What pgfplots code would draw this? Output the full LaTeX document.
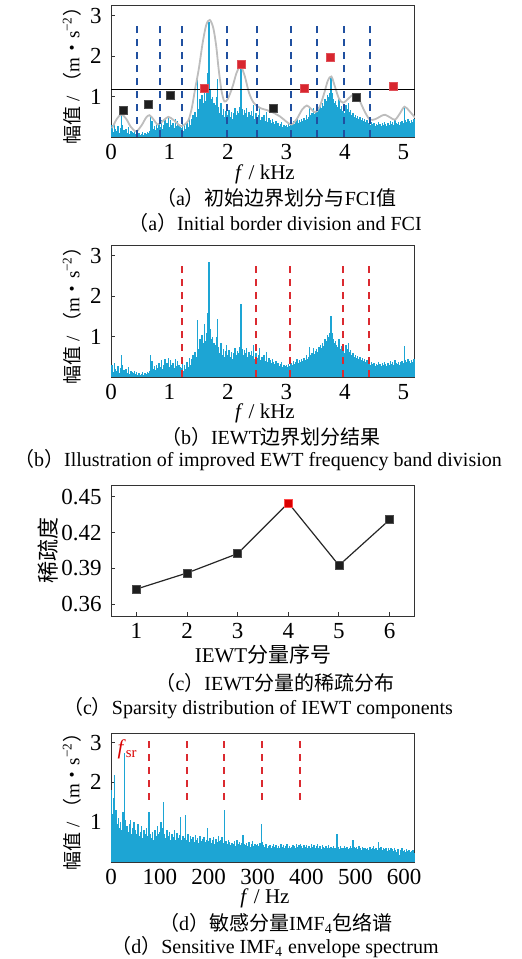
\documentclass[border=0pt]{standalone}
\usepackage{fontspec}
\setmainfont{Liberation Serif}
\newfontfamily\cjk{Noto Sans CJK SC}
\usepackage{pgfplots}
\pgfplotsset{compat=1.18}
\usepackage{pgfplotstable}

\definecolor{spec}{HTML}{1DA5D4}
\definecolor{envgray}{HTML}{BDBDBD}
\definecolor{dashblue}{HTML}{2050A0}
\definecolor{dashred}{HTML}{DB2A30}
\definecolor{sqred}{HTML}{D8262F}
\definecolor{sqblack}{HTML}{1E1E1E}

\newcommand{\zh}[1]{{\cjk #1}}
\newcommand{\ylab}{\zh{幅值} / \zh{（}m\zh{・}s\textsuperscript{−2}\zh{）}}

% original spectrum, 0.02 kHz bins (panels a and b)
\pgfplotstableread[row sep=\\, header=false]{
0.02\\0.30\\0.12\\0.35\\0.20\\0.15\\0.28\\0.10\\0.22\\0.55\\
0.30\\0.18\\0.12\\0.20\\0.10\\0.25\\0.08\\0.15\\0.12\\0.10\\
0.14\\0.08\\0.12\\0.06\\0.10\\0.05\\0.08\\0.12\\0.06\\0.10\\
0.08\\0.12\\0.10\\0.15\\0.55\\0.40\\0.20\\0.28\\0.18\\0.30\\
0.22\\0.35\\0.25\\0.42\\0.20\\0.30\\0.45\\0.28\\0.35\\0.48\\
0.25\\0.42\\0.30\\0.35\\0.22\\0.45\\0.28\\0.40\\0.30\\0.25\\
0.22\\0.35\\0.15\\0.30\\0.20\\0.38\\0.25\\0.48\\0.30\\0.45\\
0.55\\0.40\\0.62\\0.50\\1.40\\0.70\\0.95\\0.75\\1.05\\0.85\\
1.32\\0.90\\1.10\\1.58\\2.84\\1.20\\0.95\\1.00\\0.85\\0.80\\
1.00\\1.43\\0.75\\0.60\\0.85\\0.55\\0.70\\0.50\\0.65\\0.80\\
0.55\\0.68\\0.50\\0.62\\0.45\\0.60\\0.72\\0.55\\0.65\\0.60\\
0.75\\1.80\\0.70\\0.55\\0.68\\0.60\\0.72\\0.50\\0.62\\0.55\\
0.65\\0.52\\0.80\\0.45\\0.60\\0.48\\0.55\\0.72\\0.42\\0.50\\
0.45\\0.55\\0.40\\0.62\\0.38\\0.48\\0.42\\0.35\\0.45\\0.38\\
0.32\\0.40\\0.30\\0.35\\0.28\\0.32\\0.38\\0.25\\0.30\\0.28\\
0.30\\0.25\\0.32\\0.28\\0.35\\0.30\\0.40\\0.32\\0.38\\0.45\\
0.35\\0.42\\0.38\\0.45\\0.40\\0.48\\0.42\\0.55\\0.45\\0.50\\
0.74\\0.55\\0.60\\0.72\\0.58\\0.65\\0.70\\0.62\\0.75\\0.80\\
0.72\\0.85\\0.78\\0.95\\0.90\\1.05\\1.00\\1.10\\1.52\\1.08\\
0.95\\0.85\\0.90\\0.80\\0.75\\0.95\\0.70\\0.78\\0.65\\0.72\\
0.60\\0.80\\0.70\\0.85\\0.62\\0.68\\0.55\\0.60\\0.50\\0.55\\
0.48\\0.52\\0.45\\0.50\\0.42\\0.48\\0.40\\0.45\\0.38\\0.42\\
0.35\\0.40\\0.30\\0.38\\0.32\\0.35\\0.28\\0.33\\0.30\\0.36\\
0.32\\0.28\\0.35\\0.30\\0.38\\0.32\\0.28\\0.35\\0.30\\0.40\\
0.33\\0.38\\0.30\\0.42\\0.35\\0.32\\0.38\\0.30\\0.36\\0.40\\
0.35\\0.76\\0.42\\0.38\\0.45\\0.40\\0.35\\0.42\\0.38\\0.45\\
0.40\\
}\specab

% envelope spectrum of IMF4, 2.5 Hz bins (panel d)
\pgfplotstableread[row sep=\\, header=false]{
1.80\\1.20\\1.60\\2.18\\1.30\\0.95\\1.10\\0.85\\1.00\\0.80\\
1.25\\2.75\\1.05\\0.90\\0.75\\0.95\\1.05\\0.70\\0.85\\1.00\\
0.80\\0.70\\0.95\\0.65\\0.75\\0.90\\0.60\\0.80\\0.70\\0.85\\
0.65\\1.25\\0.70\\0.60\\0.75\\0.55\\0.80\\0.65\\0.90\\0.70\\
0.75\\1.00\\0.85\\1.50\\0.70\\0.60\\0.80\\0.65\\0.75\\0.55\\
0.70\\0.62\\0.80\\0.55\\0.72\\0.60\\0.68\\1.13\\0.55\\0.65\\
0.60\\1.17\\0.55\\0.70\\0.50\\0.65\\0.58\\0.62\\0.50\\0.68\\
0.55\\0.60\\0.48\\0.65\\0.52\\0.58\\0.62\\0.50\\0.55\\0.85\\
0.52\\0.60\\0.48\\0.55\\0.62\\0.45\\0.58\\0.50\\0.65\\0.52\\
0.55\\0.62\\0.48\\1.30\\0.52\\0.45\\0.55\\0.50\\0.42\\0.48\\
0.45\\0.52\\0.40\\0.55\\0.45\\0.50\\0.42\\0.48\\0.68\\0.45\\
0.42\\0.48\\0.40\\0.50\\0.38\\0.45\\0.52\\0.40\\0.46\\0.42\\
0.45\\0.40\\0.48\\0.95\\0.50\\0.42\\0.38\\0.44\\0.36\\0.40\\
0.42\\0.35\\0.40\\0.45\\0.38\\0.42\\0.34\\0.40\\0.36\\0.44\\
0.38\\0.42\\0.35\\0.40\\0.45\\0.36\\0.40\\0.34\\0.38\\0.42\\
0.40\\0.36\\0.44\\0.38\\0.42\\0.45\\0.40\\0.35\\0.42\\0.38\\
0.42\\0.36\\0.40\\0.34\\0.45\\0.38\\0.42\\0.35\\0.40\\0.44\\
0.36\\0.40\\0.33\\0.42\\0.38\\0.35\\0.40\\0.36\\0.42\\0.34\\
0.38\\0.35\\0.40\\0.36\\0.34\\0.70\\0.38\\0.33\\0.40\\0.35\\
0.36\\0.40\\0.34\\0.38\\0.32\\0.36\\0.40\\0.35\\0.55\\0.38\\
0.34\\0.38\\0.32\\0.40\\0.35\\0.30\\0.38\\0.34\\0.36\\0.32\\
0.35\\0.30\\0.38\\0.33\\0.36\\0.40\\0.32\\0.35\\0.30\\0.50\\
0.34\\0.38\\0.30\\0.36\\0.32\\0.35\\0.28\\0.34\\0.30\\0.36\\
0.32\\0.28\\0.34\\0.30\\0.26\\0.32\\0.18\\0.30\\0.34\\0.28\\
0.30\\0.26\\0.32\\0.28\\0.30\\0.25\\0.28\\0.30\\0.22\\
}\specd

\pgfplotstableread{
x y
0.02 0.22
0.10 0.45
0.18 0.56
0.26 0.45
0.34 0.25
0.43 0.14
0.52 0.28
0.60 0.48
0.66 0.54
0.73 0.43
0.80 0.31
0.89 0.40
0.98 0.50
1.07 0.42
1.18 0.28
1.24 0.29
1.32 0.40
1.38 0.70
1.44 1.20
1.50 1.67
1.57 2.35
1.63 2.78
1.69 2.90
1.75 2.70
1.80 2.25
1.84 1.70
1.89 1.15
1.94 0.88
2.00 0.95
2.08 1.25
2.15 1.60
2.22 1.75
2.29 1.50
2.36 1.10
2.44 0.85
2.55 0.72
2.72 0.64
2.89 0.51
3.00 0.38
3.09 0.31
3.18 0.45
3.27 0.68
3.35 0.78
3.42 0.70
3.49 0.61
3.57 0.75
3.65 1.10
3.71 1.40
3.77 1.50
3.83 1.25
3.90 0.95
3.97 0.85
4.06 0.95
4.14 1.05
4.22 1.00
4.30 0.75
4.37 0.55
4.43 0.43
4.52 0.44
4.62 0.52
4.69 0.55
4.78 0.48
4.86 0.43
4.94 0.58
5.02 0.75
5.10 0.65
5.20 0.48
}\envelope

\pgfplotsset{
  panel/.style={
    scale only axis, width=152pt, anchor=north west,
    tick align=inside, tick pos=left, major tick length=2.2pt,
    axis line style={line width=0.5pt, black!80},
    tick style={line width=0.5pt, black!80},
    ticklabel style={font=\fontsize{11.5}{13}\selectfont, inner sep=1pt},
    yticklabel style={xshift=-3.5pt},
    xticklabel style={yshift=-2.5pt},
    /pgf/number format/assume math mode=true,
  },
  khz/.style={xmin=0, xmax=5.2, ymin=0, ymax=3.27, xtick={0,1,2,3,4,5}, ytick={1,2,3}},
}
\tikzset{lab/.style={inner sep=0.5pt, font=\fontsize{10.5}{12}\selectfont}}

\begin{document}
\begin{tikzpicture}
\useasboundingbox (0,0) rectangle (261pt,-479.5pt);

% (a)
\begin{axis}[panel, khz, at={(55.5pt,-2.5pt)}, height=66pt]
\addplot[ycomb, spec, line width=0.72pt, no markers] table[x expr=\coordindex*0.02, y index=0]{\specab};
\addplot[envgray, line width=0.9pt, smooth, tension=0.5, no markers] table[x=x, y=y]{\envelope};
\addplot[ycomb, dashblue, line width=1pt, dash pattern=on 3.5pt off 3pt, no markers]
  coordinates {(0.44,2.82) (0.83,2.82) (1.21,2.82) (1.98,2.82) (2.49,2.82) (3.08,2.82) (3.52,2.82) (3.99,2.82) (4.43,2.82)};
\addplot[black, line width=0.6pt, no markers] coordinates {(0,1.18) (5.2,1.18)};
\addplot[only marks, mark=square*, mark size=2pt, mark options={fill=sqblack, draw=black!70, line width=0.3pt}]
  coordinates {(0.21,0.65) (0.64,0.82) (1.02,1.03) (2.78,0.72) (4.20,0.99)};
\addplot[only marks, mark=square*, mark size=2pt, mark options={fill=sqred, draw=sqred!80!white, line width=0.3pt}]
  coordinates {(1.59,1.20) (2.23,1.81) (3.30,1.21) (3.75,1.97) (4.83,1.25)};
\end{axis}
\node[rotate=90, font=\fontsize{9.5}{11}\selectfont] at (36pt,-35.5pt) {\ylab};
\node[lab] at (132.5pt,-87pt) {\textit{f} / kHz};
\node[font=\fontsize{10}{12}\selectfont] at (138pt,-99pt) {\zh{（}a\zh{）初始边界划分与}FCI\zh{值}};
\node[font=\fontsize{10}{12}\selectfont] at (137.5pt,-111.5pt) {\zh{（}a\zh{）}Initial border division and FCI};

% (b)
\begin{axis}[panel, khz, at={(55.5pt,-122.5pt)}, height=66pt]
\addplot[ycomb, spec, line width=0.72pt, no markers] table[x expr=\coordindex*0.02, y index=0]{\specab};
\addplot[ycomb, dashred, line width=1pt, dash pattern=on 3.5pt off 3pt, no markers]
  coordinates {(1.21,2.82) (2.48,2.82) (3.06,2.82) (3.96,2.82) (4.41,2.82)};
\end{axis}
\node[rotate=90, font=\fontsize{9.5}{11}\selectfont] at (36pt,-155.5pt) {\ylab};
\node[lab] at (132.5pt,-206.5pt) {\textit{f} / kHz};
\node[font=\fontsize{10}{12}\selectfont] at (135.5pt,-218.5pt) {\zh{（}b\zh{）}IEWT\zh{边界划分结果}};
\node[font=\fontsize{10}{12}\selectfont] at (129pt,-230pt) {\zh{（}b\zh{）}Illustration of improved EWT frequency band division};

% (c)
\begin{axis}[panel, at={(55.5pt,-242.5pt)}, height=65.5pt,
  xmin=0.5, xmax=6.5, ymin=0.35, ymax=0.46,
  xtick={1,2,3,4,5,6}, ytick={0.36,0.39,0.42,0.45},
  yticklabel style={/pgf/number format/.cd, fixed, fixed zerofill, precision=2}]
\addplot[black!85, line width=0.6pt, mark=square*, mark size=2pt, mark options={fill=sqblack, draw=black!70, line width=0.3pt}]
  coordinates {(1,0.3726) (2,0.3861) (3,0.4024) (4,0.4450) (5,0.3925) (6,0.4309)};
\addplot[only marks, mark=square*, mark size=2pt, mark options={fill=red!85!black, draw=red!70, line width=0.3pt}]
  coordinates {(4,0.4450)};
\end{axis}
\node[rotate=90, font=\fontsize{11}{13}\selectfont] at (24pt,-275pt) {\zh{稀疏度}};
\node[lab] at (131.5pt,-327pt) {IEWT\zh{分量序号}};
\node[font=\fontsize{10}{12}\selectfont] at (137.5pt,-341.5pt) {\zh{（}c\zh{）}IEWT\zh{分量的稀疏分布}};
\node[font=\fontsize{10}{12}\selectfont] at (129pt,-354pt) {\zh{（}c\zh{）}Sparsity distribution of IEWT components};

% (d)
\begin{axis}[panel, at={(55.5pt,-366.5pt)}, height=64.5pt,
  xmin=0, xmax=622, ymin=0, ymax=3.24, xtick={0,100,...,600}, ytick={1,2,3}]
\addplot[ycomb, spec, line width=0.72pt, no markers] table[x expr=\coordindex*2.5, y index=0]{\specd};
\addplot[dashred, line width=1pt, dash pattern=on 3.5pt off 3pt, no markers] coordinates {(77,1.57) (77,3.1)};
\addplot[dashred, line width=1pt, dash pattern=on 3.5pt off 3pt, no markers] coordinates {(154.5,1.57) (154.5,3.1)};
\addplot[dashred, line width=1pt, dash pattern=on 3.5pt off 3pt, no markers] coordinates {(231.5,1.57) (231.5,3.1)};
\addplot[dashred, line width=1pt, dash pattern=on 3.5pt off 3pt, no markers] coordinates {(309,1.57) (309,3.1)};
\addplot[dashred, line width=1pt, dash pattern=on 3.5pt off 3pt, no markers] coordinates {(386,1.57) (386,3.1)};
\node[text=red!85!black, font=\fontsize{10.5}{12}\selectfont] at (axis cs:34,2.84) {\textit{f}\textsubscript{sr}};
\end{axis}
\node[rotate=90, font=\fontsize{9.5}{11}\selectfont] at (36pt,-398.5pt) {\ylab};
\node[lab] at (132.5pt,-449pt) {\textit{f} / Hz};
\node[font=\fontsize{10}{12}\selectfont] at (138pt,-461.5pt) {\zh{（}d\zh{）敏感分量}IMF\textsubscript{4}\zh{包络谱}};
\node[font=\fontsize{10}{12}\selectfont] at (137.5pt,-473.5pt) {\zh{（}d\zh{）}Sensitive IMF\textsubscript{4} envelope spectrum};
\end{tikzpicture}
\end{document}
